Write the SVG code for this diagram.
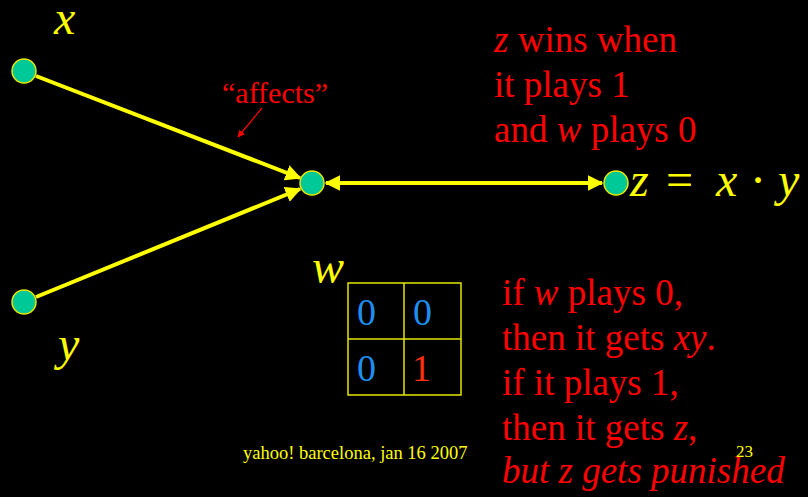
<svg xmlns="http://www.w3.org/2000/svg" width="808" height="497" viewBox="0 0 808 497">
  <style>
    .serif { font-family: "Liberation Serif", "Times New Roman", serif; }
    .it { font-style: italic; }
    .yel { fill: #ffff00; }
    .red { fill: #ff0000; }
    .node { fill: #00c896; stroke: #e6e600; stroke-width: 1.5; }
    .edge { stroke: #ffff00; stroke-width: 4; fill: none; }
    .cell { fill: none; stroke: #e6e600; stroke-width: 1.5; }
    .digit { font-size: 38px; fill: #1e8ff0; }
    .big { font-size: 37px; }
    .var { font-size: 48px; }
  </style>
  <defs>
    <marker id="head" viewBox="0 0 10 10" refX="9" refY="5" markerWidth="4" markerHeight="4" markerUnits="strokeWidth" orient="auto-start-reverse">
      <path d="M0,0 L10,5 L0,10 z" fill="#ffff00"/>
    </marker>
    <marker id="redhead" viewBox="0 0 10 10" refX="9" refY="5" markerWidth="6" markerHeight="6" markerUnits="strokeWidth" orient="auto">
      <path d="M0,0 L10,5 L0,10 z" fill="#ff0000"/>
    </marker>
  </defs>

  <rect width="808" height="497" fill="#000000"/>

  <!-- connectors -->
  <g id="connectors">
    <line class="edge" x1="36" y1="76" x2="300" y2="178" marker-end="url(#head)"/>
    <line class="edge" x1="36" y1="297" x2="300" y2="189" marker-end="url(#head)"/>
    <line class="edge" x1="326" y1="183" x2="602" y2="183" marker-start="url(#head)" marker-end="url(#head)"/>
    <line x1="262" y1="108" x2="238" y2="137" stroke="#ff0000" stroke-width="1.2" marker-end="url(#redhead)"/>
  </g>

  <!-- nodes -->
  <g id="node-x">
    <circle class="node" cx="24" cy="71" r="12"/>
    <text class="serif it yel var" x="54" y="34">x</text>
  </g>
  <g id="node-y">
    <circle class="node" cx="24" cy="302" r="12"/>
    <text class="serif it yel var" x="58" y="360">y</text>
  </g>
  <g id="node-w">
    <circle class="node" cx="312" cy="183" r="12"/>
    <text class="serif it yel var" x="312" y="283">w</text>
  </g>
  <g id="node-z">
    <circle class="node" cx="616" cy="183" r="12"/>
    <g class="serif yel" font-size="48">
      <text class="it" x="630" y="196">z</text>
      <text x="666" y="196">=</text>
      <text class="it" x="716" y="196">x</text>
      <text x="750" y="196">·</text>
      <text class="it" x="778" y="196">y</text>
    </g>
  </g>

  <!-- edge label -->
  <text class="serif red" x="222" y="103" font-size="30">“affects”</text>

  <!-- payoff table for w -->
  <g id="table">
    <rect class="cell" x="348" y="283" width="113" height="112"/>
    <line class="cell" x1="404" y1="283" x2="404" y2="395"/>
    <line class="cell" x1="348" y1="339" x2="461" y2="339"/>
    <text class="serif digit" x="357" y="325">0</text>
    <text class="serif digit" x="413" y="325">0</text>
    <text class="serif digit" x="357" y="381">0</text>
    <text class="serif" x="412" y="381" font-size="38" fill="#ff3010">1</text>
  </g>

  <!-- notes -->
  <g id="notes" class="serif red big">
    <text x="494" y="52"><tspan class="it">z</tspan> wins when</text>
    <text x="494" y="97">it plays 1</text>
    <text x="494" y="142">and <tspan class="it">w</tspan> plays 0</text>
    <text x="502" y="305">if <tspan class="it">w</tspan> plays 0,</text>
    <text x="502" y="350">then it gets <tspan class="it">xy</tspan>.</text>
    <text x="502" y="395">if it plays 1,</text>
    <text x="502" y="440">then it gets <tspan class="it">z</tspan>,</text>
    <text x="502" y="483" class="it">but z gets punished</text>
  </g>

  <!-- footer -->
  <text class="serif yel" x="243" y="459" font-size="18.5">yahoo! barcelona, jan 16 2007</text>
  <text class="serif yel" x="736" y="457" font-size="17">23</text>
</svg>
